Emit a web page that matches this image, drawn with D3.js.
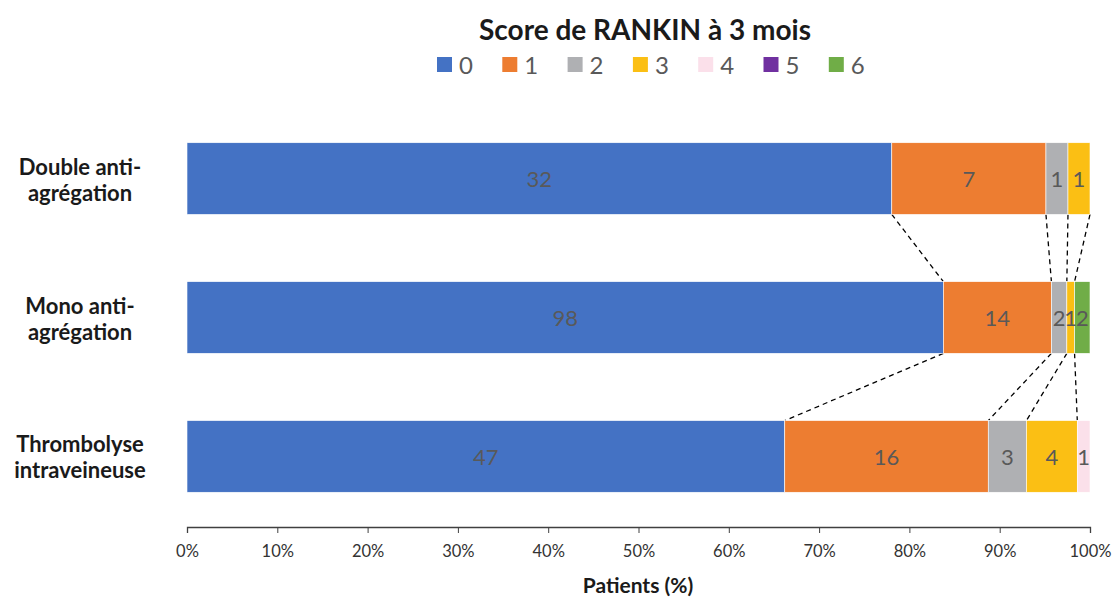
<!DOCTYPE html>
<html>
<head>
<meta charset="utf-8">
<script src="https://cdn.jsdelivr.net/npm/d3@7"></script>
<style>
  body { margin: 0; background: #fff; }
  svg text { font-family: Lato, "Open Sans", sans-serif; }
</style>
</head>
<body>
<div id="chart"></div>
<script>
const categories = [["Double anti-", "agrégation"], ["Mono anti-", "agrégation"], ["Thrombolyse", "intraveineuse"]];
const scores = ["0", "1", "2", "3", "4", "5", "6"];
const colors = ["#4472C4", "#ED7D31", "#AFB0B3", "#FBBF14", "#FBE0EA", "#7030A0", "#70AD47"];
const counts = [
  [32, 7, 1, 1, 0, 0, 0],
  [98, 14, 2, 1, 0, 0, 2],
  [47, 16, 3, 4, 1, 0, 0]
];
const ticks = [0, 0.1, 0.2, 0.3, 0.4, 0.5, 0.6, 0.7, 0.8, 0.9, 1];

const w = 1117, h = 599;
const svg = d3.select("#chart").append("svg").attr("width", w).attr("height", h);

const keys = categories.map(c => c.join(" "));
const x = d3.scaleLinear().domain([0, 1]).range([187, 1090]);
const y = d3.scaleBand().domain(keys).range([108, 527]).paddingInner(0.484).paddingOuter(0.25);

// cumulative proportions per bar
const rows = counts.map((vals, i) => {
  const total = d3.sum(vals);
  let acc = 0;
  return vals.map((v, j) => {
    const s = acc / total; acc += v;
    return { cat: keys[i], row: i, k: j, v: v, x0: s, x1: acc / total };
  });
});

// series lines
const lines = [];
for (let i = 0; i < rows.length - 1; i++) {
  for (let j = 0; j < scores.length; j++) {
    const a = rows[i][j], b = rows[i + 1][j];
    if (a.v > 0 && b.v > 0) lines.push({ x1: a.x1, x2: b.x1, ya: keys[i], yb: keys[i + 1] });
  }
}
svg.selectAll(".sline").data(lines).enter().append("line")
  .attr("x1", d => x(d.x1)).attr("y1", d => y(d.ya) + y.bandwidth())
  .attr("x2", d => x(d.x2)).attr("y2", d => y(d.yb))
  .attr("stroke", "#000").attr("stroke-width", 1.3).attr("stroke-dasharray", "5,4");

const segs = rows.flat().filter(d => d.v > 0);
svg.selectAll(".seg").data(segs).enter().append("rect")
  .attr("x", d => x(d.x0)).attr("y", d => y(d.cat))
  .attr("width", d => x(d.x1) - x(d.x0)).attr("height", y.bandwidth())
  .attr("fill", d => colors[d.k]).attr("stroke", "#fff").attr("stroke-width", 0.6);

svg.selectAll(".lbl").data(segs).enter().append("text")
  .attr("x", d => (x(d.x0) + x(d.x1)) / 2).attr("y", d => y(d.cat) + y.bandwidth() / 2)
  .attr("text-anchor", "middle").attr("dominant-baseline", "central")
  .style("font-size", "22px").style("fill", "#595959")
  .text(d => d.v);

// category labels
categories.forEach((c, i) => {
  const t = svg.append("text").attr("text-anchor", "middle")
    .style("font-size", "22px").style("font-weight", "bold").style("fill", "#1a1a1a");
  c.forEach((line, k) => {
    t.append("tspan").attr("x", 80)
      .attr("y", y(keys[i]) + y.bandwidth() / 2 - 4 + k * 26)
      .text(line);
  });
});

// x axis
const xAxis = d3.axisBottom(x).tickValues(ticks).tickFormat(d3.format(".0%")).tickSize(6).tickPadding(12);
const ax = svg.append("g").attr("transform", "translate(0,527)").call(xAxis);
ax.select(".domain").attr("stroke", "#404040").attr("stroke-width", 1.3);
ax.selectAll(".tick line").attr("stroke", "#404040");
ax.selectAll(".tick text").style("font-size", "16.5px").style("fill", "#333")
  .style("font-family", "Lato, sans-serif");

svg.append("text").attr("x", 638).attr("y", 593).attr("text-anchor", "middle")
  .style("font-size", "21px").style("font-weight", "bold").style("fill", "#1a1a1a")
  .text("Patients (%)");

// title
svg.append("text").attr("x", 645).attr("y", 40).attr("text-anchor", "middle")
  .style("font-size", "28px").style("font-weight", "bold").style("fill", "#1a1a1a")
  .text("Score de RANKIN à 3 mois");

// legend
const lg = svg.selectAll(".legend").data(scores).enter().append("g")
  .attr("transform", (d, i) => "translate(" + (437 + i * 65.3) + ",57)");
lg.append("rect").attr("width", 15).attr("height", 15).attr("fill", (d, i) => colors[i]);
lg.append("text").attr("x", 22).attr("y", 7.5).attr("dominant-baseline", "central")
  .style("font-size", "24px").style("fill", "#595959").text(d => d);
</script>
</body>
</html>
